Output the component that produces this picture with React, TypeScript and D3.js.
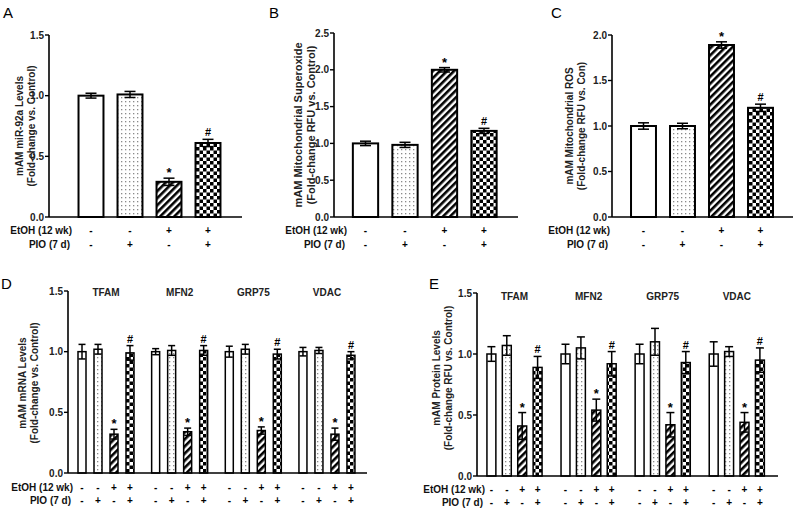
import React from "react";
import * as d3 from "d3";

// ---------- data ----------
const conditions = ["Control", "PIO", "EtOH", "EtOH+PIO"];
const etohSigns = ["-", "-", "+", "+"];
const pioSigns = ["-", "+", "-", "+"];
const sigMarks = ["", "", "*", "#"];

const aMeans = [1.0, 1.01, 0.29, 0.61];
const aErrs = [0.02, 0.025, 0.03, 0.03];
const aTicks = [0, 0.5, 1.0, 1.5];

const bMeans = [1.0, 0.98, 2.0, 1.17];
const bErrs = [0.03, 0.035, 0.03, 0.035];
const bTicks = [0, 0.5, 1.0, 1.5, 2.0, 2.5];

const cMeans = [1.0, 1.0, 1.89, 1.2];
const cErrs = [0.035, 0.03, 0.035, 0.04];
const cTicks = [0, 0.5, 1.0, 1.5, 2.0];

const genes = ["TFAM", "MFN2", "GRP75", "VDAC"];
const dTicks = [0, 0.5, 1.0, 1.5];
const dMeans = [
  [1.0, 1.02, 0.32, 0.99],
  [1.0, 1.01, 0.34, 1.01],
  [1.0, 1.02, 0.35, 0.98],
  [1.0, 1.01, 0.32, 0.97],
];
const dErrs = [
  [0.06, 0.04, 0.04, 0.06],
  [0.025, 0.04, 0.03, 0.04],
  [0.045, 0.04, 0.03, 0.04],
  [0.035, 0.025, 0.05, 0.03],
];
const eTicks = [0, 0.5, 1.0, 1.5];
const eMeans = [
  [1.0, 1.07, 0.41, 0.89],
  [1.0, 1.05, 0.54, 0.92],
  [1.0, 1.1, 0.42, 0.93],
  [1.0, 1.02, 0.44, 0.95],
];
const eErrs = [
  [0.06, 0.08, 0.11, 0.09],
  [0.08, 0.09, 0.09, 0.1],
  [0.08, 0.11, 0.1, 0.09],
  [0.1, 0.04, 0.08, 0.1],
];

const yLabA = ["mAM miR-92a Levels", "(Fold-change vs. Control)"];
const yLabB = ["mAM Mitochondrial Superoxide", "(Fold-change RFU vs. Control)"];
const yLabC = ["mAM Mitochondrial ROS", "(Fold-change RFU vs. Con)"];
const yLabD = ["mAM mRNA Levels", "(Fold-change vs. Control)"];
const yLabE = ["mAM Protein Levels", "(Fold-change RFU vs. Control)"];

// ---------- styles ----------
const FONT = "'Liberation Sans', Arial, sans-serif";
const fills = ["white", "url(#dots)", "url(#stripes)", "url(#checks)"];
const fmt = d3.format(".1f");

type Layout = {
  letter: string; lx: number; ly: number;
  axisX: number; yTop: number; y0: number; xEnd: number;
  start: number; step: number;
  labX: number[]; labSize: number;
  signX: number; signY: number[];
  cap: number; sw: number;
};

function YAxis({ y, ticks, L }: { y: d3.ScaleLinear<number, number>; ticks: number[]; L: Layout }) {
  return (
    <g>
      <line x1={L.axisX} x2={L.axisX} y1={y(ticks[ticks.length - 1])} y2={L.y0} stroke="black" strokeWidth={1.6} />
      <line x1={L.axisX} x2={L.xEnd} y1={L.y0} y2={L.y0} stroke="black" strokeWidth={1.6} />
      {ticks.map((t) => (
        <g key={t}>
          <line x1={L.axisX - 4} x2={L.axisX} y1={y(t)} y2={y(t)} stroke="black" strokeWidth={1.4} />
          <text x={L.axisX - 5} y={y(t) + 3.5} textAnchor="end" fontSize={10} fontWeight="bold" fill="#222">
            {fmt(t)}
          </text>
        </g>
      ))}
    </g>
  );
}

function YLabel({ L, lines, yc }: { L: Layout; lines: string[]; yc: number }) {
  return (
    <g>
      {lines.map((s, i) => (
        <text key={i} transform={`translate(${L.labX[i]},${yc}) rotate(-90)`} textAnchor="middle"
          fontSize={L.labSize} fontWeight="bold" fill="#222">{s}</text>
      ))}
    </g>
  );
}

function Bar({ x, w, m, e, fill, y, y0, cap, sw, mark }: any) {
  const cx = x + w / 2;
  const top = y(m);
  const et = y(m + e);
  const eb = y(m - e);
  return (
    <g>
      <rect x={x} y={top} width={w} height={y0 - top} fill={fill} stroke="black" strokeWidth={sw} />
      <line x1={cx} x2={cx} y1={et} y2={eb} stroke="black" strokeWidth={1.5} />
      <line x1={cx - cap / 2} x2={cx + cap / 2} y1={et} y2={et} stroke="black" strokeWidth={1.5} />
      <line x1={cx - cap / 2} x2={cx + cap / 2} y1={eb} y2={eb} stroke="black" strokeWidth={1.5} />
      {mark && (
        <text x={cx} y={mark === "*" ? et - 1 : et - 3} textAnchor="middle"
          fontSize={mark === "*" ? 13 : 11} fontWeight="bold">{mark}</text>
      )}
    </g>
  );
}

function SignLabels({ L }: { L: Layout }) {
  return (
    <g fontSize={10} fontWeight="bold" fill="#111">
      <text x={L.signX} y={L.signY[0] + 3.5} textAnchor="end">EtOH (12 wk)</text>
      <text x={L.signX - 2} y={L.signY[1] + 3.5} textAnchor="end">PIO (7 d)</text>
    </g>
  );
}

function Signs({ cx, i, L }: { cx: number; i: number; L: Layout }) {
  return (
    <g fontSize={10} fontWeight="bold" textAnchor="middle">
      <text x={cx} y={L.signY[0] + 3.5}>{etohSigns[i]}</text>
      <text x={cx} y={L.signY[1] + 3.5}>{pioSigns[i]}</text>
    </g>
  );
}

function SimplePanel({ L, means, errs, ticks, lines }: any) {
  const y = d3.scaleLinear().domain([0, ticks[ticks.length - 1]]).range([L.y0, L.yTop]);
  const x = d3.scaleBand<string>().domain(conditions).range([L.start, L.start + 4 * L.step])
    .paddingInner(0.36).paddingOuter(0.18);
  return (
    <g>
      <text x={L.lx} y={L.ly} fontSize={15}>{L.letter}</text>
      {conditions.map((c, i) => (
        <Bar key={c} x={x(c)} w={x.bandwidth()} m={means[i]} e={errs[i]} fill={fills[i]} y={y} y0={L.y0}
          cap={L.cap} sw={L.sw} mark={sigMarks[i]} />
      ))}
      <YAxis y={y} ticks={ticks} L={L} />
      <YLabel L={L} lines={lines} yc={(L.y0 + L.yTop) / 2} />
      <SignLabels L={L} />
      {conditions.map((c, i) => (
        <Signs key={c} cx={(x(c) as number) + x.bandwidth() / 2} i={i} L={L} />
      ))}
    </g>
  );
}

function GroupPanel({ L, means, errs, ticks, lines, inner, pad, geneY, yc }: any) {
  const y = d3.scaleLinear().domain([0, ticks[ticks.length - 1]]).range([L.y0, L.yTop]);
  const gx = d3.scaleBand<string>().domain(genes).range([L.start, L.start + 4 * L.step]).padding(0);
  const ix = d3.scaleBand<string>().domain(conditions).range(inner).paddingInner(pad).paddingOuter(pad / 2);
  return (
    <g>
      <text x={L.lx} y={L.ly} fontSize={15}>{L.letter}</text>
      {genes.map((g, gi) => (
        <g key={g}>
          <text x={(gx(g) as number) + gx.bandwidth() / 2} y={geneY} textAnchor="middle" fontSize={10}
            fontWeight="bold" fill="#222">{g}</text>
          {conditions.map((c, i) => {
            const bx = (gx(g) as number) + (ix(c) as number);
            const cx = bx + ix.bandwidth() / 2;
            return (
              <g key={c}>
                <Bar x={bx} w={ix.bandwidth()} m={means[gi][i]} e={errs[gi][i]} fill={fills[i]} y={y} y0={L.y0}
                  cap={L.cap} sw={L.sw} mark={sigMarks[i]} />
                <Signs cx={cx} i={i} L={L} />
              </g>
            );
          })}
        </g>
      ))}
      <YAxis y={y} ticks={ticks} L={L} />
      <YLabel L={L} lines={lines} yc={yc} />
      <SignLabels L={L} />
    </g>
  );
}

const LA: Layout = { letter: "A", lx: 3, ly: 18, axisX: 49, yTop: 35, y0: 217, xEnd: 242, start: 71.5, step: 39,
  labX: [23, 35], labSize: 10, signX: 72, signY: [230, 244], cap: 11, sw: 2 };
const LB: Layout = { letter: "B", lx: 269, ly: 18, axisX: 334, yTop: 33, y0: 217, xEnd: 518, start: 345.75, step: 39.5,
  labX: [302, 315], labSize: 11, signX: 347, signY: [230, 244], cap: 11, sw: 2 };
const LC: Layout = { letter: "C", lx: 551, ly: 18, axisX: 612, yTop: 35, y0: 217, xEnd: 793, start: 624, step: 39,
  labX: [573, 585], labSize: 10, signX: 610, signY: [230, 244], cap: 11, sw: 2 };
const LD: Layout = { letter: "D", lx: 1, ly: 289, axisX: 68, yTop: 291, y0: 473, xEnd: 367, start: 69.2, step: 73.65,
  labX: [26, 38], labSize: 10, signX: 73, signY: [487, 500], cap: 7, sw: 1.5 };
const LE: Layout = { letter: "E", lx: 429, ly: 289, axisX: 477, yTop: 293, y0: 476, xEnd: 778, start: 477.45, step: 74.1,
  labX: [440, 452], labSize: 10, signX: 485, signY: [489, 502], cap: 8, sw: 1.5 };

export default function App() {
  return (
    <svg width={795} height={510} style={{ position: "absolute", left: 0, top: 0, background: "white" }}
      fontFamily={FONT}>
      <defs>
        <pattern id="dots" width={4} height={4} patternUnits="userSpaceOnUse">
          <rect width={4} height={4} fill="white" />
          <rect x={1} y={1} width={1.3} height={1.3} fill="#8a8a8a" />
        </pattern>
        <pattern id="stripes" width={5} height={5} patternUnits="userSpaceOnUse" patternTransform="rotate(45)">
          <rect width={5} height={5} fill="white" />
          <rect width={2.6} height={5} fill="black" />
        </pattern>
        <pattern id="checks" width={7} height={7} patternUnits="userSpaceOnUse">
          <rect width={7} height={7} fill="white" />
          <rect width={3.5} height={3.5} fill="black" />
          <rect x={3.5} y={3.5} width={3.5} height={3.5} fill="black" />
        </pattern>
      </defs>
      <rect width={795} height={510} fill="white" />
      <SimplePanel L={LA} means={aMeans} errs={aErrs} ticks={aTicks} lines={yLabA} />
      <SimplePanel L={LB} means={bMeans} errs={bErrs} ticks={bTicks} lines={yLabB} />
      <SimplePanel L={LC} means={cMeans} errs={cErrs} ticks={cTicks} lines={yLabC} />
      <GroupPanel L={LD} means={dMeans} errs={dErrs} ticks={dTicks} lines={yLabD} inner={[4.8, 68.8]} pad={0.5}
        geneY={296} yc={383} />
      <GroupPanel L={LE} means={eMeans} errs={eErrs} ticks={eTicks} lines={yLabE} inner={[6.25, 67.85]} pad={0.42}
        geneY={300} yc={378} />
    </svg>
  );
}
